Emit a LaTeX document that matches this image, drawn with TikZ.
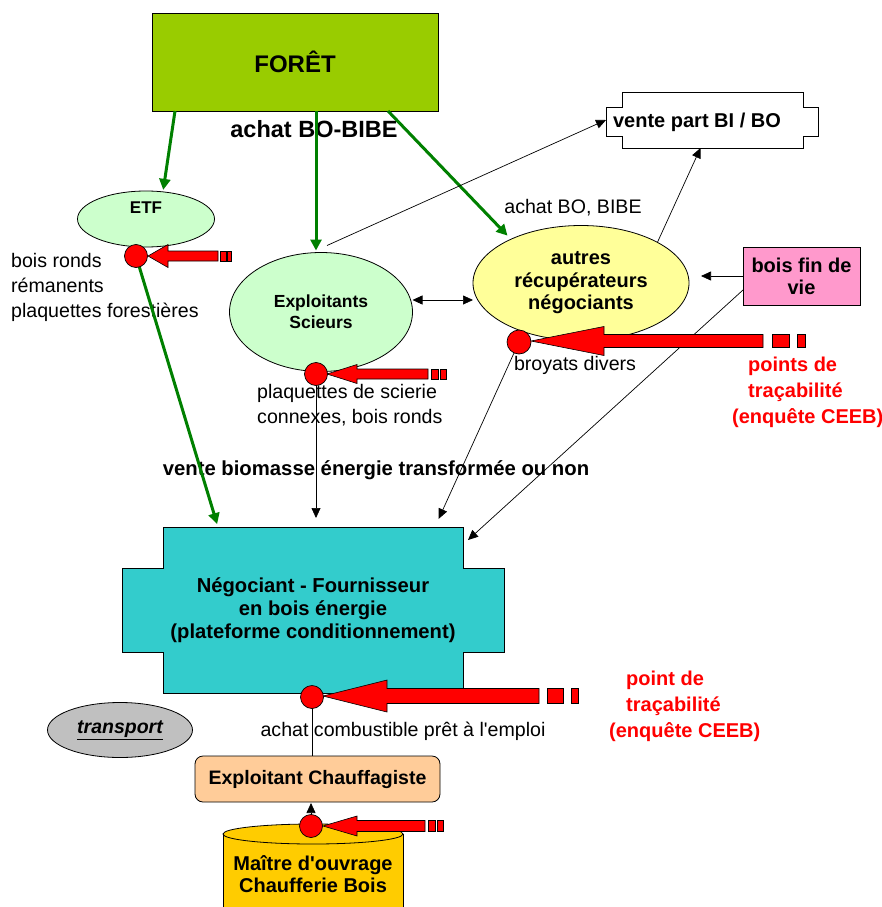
\documentclass[tikz,border=0pt]{standalone}
\usepackage{fontspec}
\setmainfont{Liberation Sans}[Ligatures=TeXOff]
\usetikzlibrary{shapes.geometric,arrows.meta,calc}
\definecolor{forestcol}{HTML}{99CC00}
\definecolor{palegreen}{HTML}{CCFFCC}
\definecolor{paleyellow}{HTML}{FFFF99}
\definecolor{pinkcol}{HTML}{FF99CC}
\definecolor{tealcol}{HTML}{33CCCC}
\definecolor{greycol}{HTML}{C0C0C0}
\definecolor{peachcol}{HTML}{FFCC99}
\definecolor{goldcol}{HTML}{FFCC00}
\definecolor{arrowgreen}{HTML}{008000}
\begin{document}
\begin{tikzpicture}[x=1pt,y=-1pt,
 rtxt/.style={font=\fontsize{19.6}{25}\selectfont, inner sep=0pt, align=left},
 btxt/.style={font=\bfseries\fontsize{20}{22.5}\selectfont, inner sep=0pt, align=center},
 redtxt/.style={font=\bfseries\fontsize{20}{26}\selectfont, text=red, inner sep=0pt, align=left},
 shapebox/.style={draw=black, line width=0.8pt, inner sep=0pt, outer sep=0pt},
 oval/.style={shapebox, ellipse, align=center},
 blk/.style={draw=black, line width=0.7pt, -{Triangle[length=10pt,width=9pt]}},
 plain/.style={draw=black, line width=0.7pt},
 grn/.style={draw=arrowgreen, line width=3pt, -{Triangle[length=11pt,width=11pt]}},
 redarrow/.style={fill=red, draw=black, line width=0.6pt},
 dot/.style={circle, fill=red, draw=black, line width=0.7pt, minimum size=23pt, inner sep=0pt}]
\clip (0,0) rectangle (882,907);
\useasboundingbox (0,0) rectangle (882,907);

% ---- shapes ----
\node[shapebox, fill=forestcol, minimum width=286pt, minimum height=98pt,
      font=\bfseries\fontsize{24}{28}\selectfont] (foret) at (295,62) {FORÊT};
\node[font=\bfseries\fontsize{23.5}{26}\selectfont, inner sep=0pt] (achatbo) at (314,129) {achat BO-BIBE};

\filldraw[fill=white, draw=black, line width=0.8pt]
  (622,92) -- (803,92) -- (803,107) -- (818,107) -- (818,136) -- (803,136) -- (803,148)
  -- (622,148) -- (622,136) -- (606,136) -- (606,107) -- (622,107) -- cycle;
\node[inner sep=0pt, outer sep=0pt, minimum width=181pt, minimum height=56pt] (vente) at (712.5,120) {};
\node[btxt] (ventetxt) at (697,122) {vente part BI / BO};

\node[oval, fill=palegreen, minimum width=137pt, minimum height=56pt,
      font=\bfseries\fontsize{17}{20}\selectfont] (etf) at (146,219) {ETF\\[3pt]};
\node[oval, fill=palegreen, minimum width=183pt, minimum height=119pt,
      font=\bfseries\fontsize{17.5}{21}\selectfont] (expl) at (321,312) {Exploitants\\Scieurs};
\node[oval, fill=paleyellow, minimum width=216pt, minimum height=115pt,
      font=\bfseries\fontsize{20}{22.5}\selectfont] (autres) at (581,283) {autres\\récupérateurs\\négociants};
\node[shapebox, fill=pinkcol, minimum width=117pt, minimum height=58pt, align=center,
      font=\bfseries\fontsize{20}{22}\selectfont] (boisfin) at (801.5,276) {bois fin de\\vie};

\filldraw[fill=tealcol, draw=black, line width=0.8pt]
  (163,527) -- (463,527) -- (463,568) -- (504,568) -- (504,652) -- (463,652) -- (463,693)
  -- (163,693) -- (163,652) -- (122,652) -- (122,568) -- (163,568) -- cycle;
\node[btxt, font=\bfseries\fontsize{20.2}{23}\selectfont, minimum width=300pt, minimum height=166pt, outer sep=0pt] (nego) at (313,610)
  {Négociant - Fournisseur\\en bois énergie\\(plateforme conditionnement)};

\node[oval, fill=greycol, minimum width=145pt, minimum height=55pt,
      font=\bfseries\itshape\fontsize{19.5}{22}\selectfont] (transport) at (120,730) {\underline{transport}};

\node[shapebox, fill=peachcol, rounded corners=8pt, minimum width=245pt, minimum height=46pt,
      font=\bfseries\fontsize{19.5}{22}\selectfont] (chauff) at (317.5,779) {Exploitant Chauffagiste};

\filldraw[fill=goldcol, draw=black, line width=0.8pt] (223,834) -- (223,930) -- (403,930) -- (403,834);
\filldraw[fill=goldcol, draw=black, line width=0.8pt] (313,834) ellipse [x radius=90pt, y radius=10pt];
\coordinate (maitretop) at (311,834);
\node[btxt] (maitre) at (313,874) {Maître d'ouvrage\\Chaufferie Bois};

% ---- texts ----
\node[rtxt, anchor=west] (boisronds) at (11,287) {bois ronds\\rémanents\\plaquettes forestières};
\node[rtxt, anchor=west] (plaq) at (257,405) {plaquettes de scierie\\connexes, bois ronds};
\node[rtxt] (achatbo2) at (573,208) {achat BO, BIBE};
\node[rtxt] (broyats) at (575,365) {broyats divers};
\node[redtxt, anchor=west] (pts1) at (732,392) {\hspace*{16pt}points de\\\hspace*{16pt}traçabilité\\(enquête CEEB)};
\node[font=\bfseries\fontsize{20.3}{22}\selectfont, inner sep=0pt] (vbio) at (376,470) {vente biomasse énergie transformée ou non};
\node[rtxt] (achatcomb) at (403,731) {achat combustible prêt à l'emploi};
\node[redtxt, anchor=west] (pts2) at (609,706) {\hspace*{17pt}point de\\\hspace*{17pt}traçabilité\\(enquête CEEB)};

% ---- dot positions ----
\coordinate (p1) at (136,256);
\coordinate (p2) at (316,374);
\coordinate (p3) at (519,342);
\coordinate (p4) at (312,697);
\coordinate (p5) at (311,826);

% ---- connectors ----
\draw[grn, shorten >=2pt] ([xshift=23pt]foret.south west) -- (etf.58);
\draw[grn] ([xshift=164pt]foret.south west) coordinate (g2) -- ([yshift=2pt]g2 |- expl.north);
\draw[grn, shorten >=5pt] ([xshift=236pt]foret.south west) -- (autres.148);
\draw[grn, shorten >=3pt] (p1) -- ([xshift=55pt]nego.north west);

\draw[blk] ([xshift=6pt,yshift=7pt]expl.north) -- ([xshift=-16pt]vente.west);
\draw[blk] (autres.28) -- ([xshift=-12pt]vente.south);
\draw[blk, shorten >=12pt] (boisfin.west) -- (boisfin.west -| autres.east);
\path ([yshift=12pt]expl.east) coordinate (ea);
\draw[blk, {Triangle[length=10pt,width=9pt]}-{Triangle[length=10pt,width=9pt]}] (ea) -- (ea -| autres.west);
\draw[blk, shorten >=9pt] (p2) -- (p2 |- nego.north);
\draw[blk, shorten >=9pt] (p3) -- ([xshift=-28pt]nego.north east);
\draw[blk] ([yshift=-14pt]boisfin.west) -- ([xshift=5pt,yshift=-13pt]nego.north east);
\draw[plain] (p4) -- (p4 |- chauff.north);
\draw[blk, shorten >=1pt] (maitretop) -- (maitretop |- chauff.south);

% ---- red traceability arrows ----
\filldraw[redarrow] (148,256) -- (168,244.5) -- (168,251) -- (218,251) -- (218,261) -- (168,261) -- (168,267.5) -- cycle;
\filldraw[redarrow] (220,251) rectangle (226,261) (227.5,251) rectangle (231,261);

\filldraw[redarrow] (327,374) -- (357,364.5) -- (357,369) -- (428,369) -- (428,379) -- (357,379) -- (357,383.5) -- cycle;
\filldraw[redarrow] (431,369) rectangle (438,379) (440,369) rectangle (446,379);

\filldraw[redarrow] (531,341) -- (604,326.5) -- (604,334.5) -- (763,334.5) -- (763,347.5) -- (604,347.5) -- (604,355.5) -- cycle;
\filldraw[redarrow] (772,334.5) rectangle (789,347.5) (797,334.5) rectangle (805,347.5);

\filldraw[redarrow] (323,696) -- (387,680) -- (387,688.5) -- (539,688.5) -- (539,703.5) -- (387,703.5) -- (387,712) -- cycle;
\filldraw[redarrow] (547,688.5) rectangle (563,703.5) (571,688.5) rectangle (578,703.5);

\filldraw[redarrow] (323,826) -- (357,816) -- (357,820.5) -- (425,820.5) -- (425,831.5) -- (357,831.5) -- (357,836) -- cycle;
\filldraw[redarrow] (428,820.5) rectangle (435,831.5) (437,820.5) rectangle (443,831.5);

% ---- red dots ----
\node[dot] (d1) at (p1) {};
\node[dot] (d2) at (p2) {};
\node[dot, minimum size=24pt] (d3) at (p3) {};
\node[dot] (d4) at (p4) {};
\node[dot] (d5) at (p5) {};
\end{tikzpicture}
\end{document}
